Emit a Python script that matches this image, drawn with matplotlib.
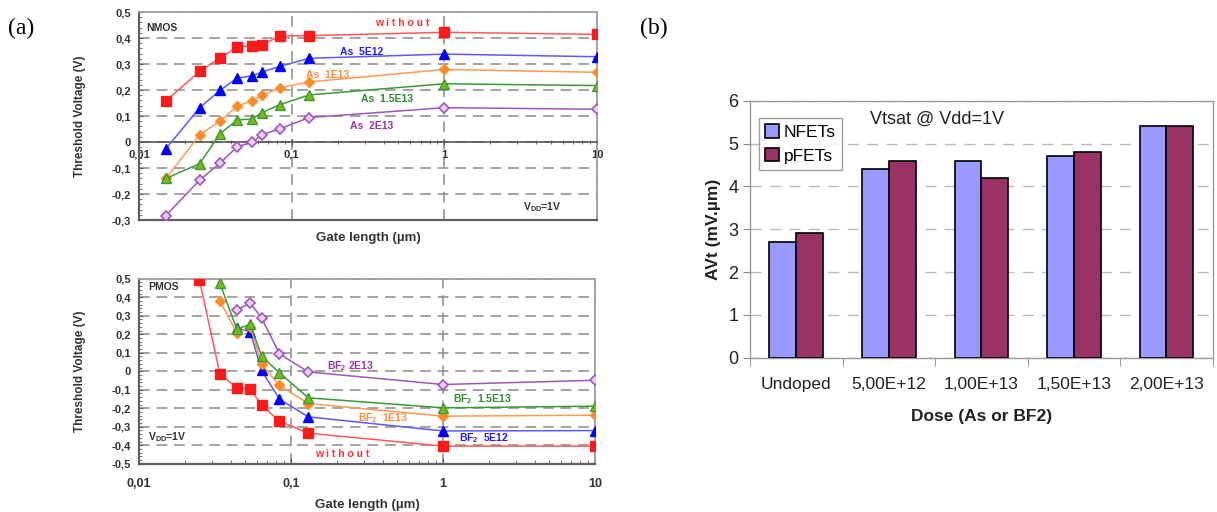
import matplotlib
matplotlib.use('Agg')
import matplotlib.pyplot as plt
import numpy as np
from matplotlib.ticker import FixedLocator, FuncFormatter, MultipleLocator, NullFormatter

plt.rcParams['font.family'] = ['Liberation Sans', 'DejaVu Sans']

# ---------------- data ----------------
gate_nmos = [0.015, 0.025, 0.034, 0.044, 0.055, 0.064, 0.084, 0.13, 1, 10]
n_without = [0.158, 0.272, 0.324, 0.365, 0.371, 0.374, 0.408, 0.409, 0.422, 0.414]
n_as5e12 = [-0.026, 0.132, 0.199, 0.246, 0.254, 0.269, 0.291, 0.322, 0.338, 0.328]
n_as1e13 = [-0.140, 0.028, 0.081, 0.138, 0.159, 0.179, 0.209, 0.231, 0.279, 0.268]
n_as15e13 = [-0.140, -0.083, 0.032, 0.085, 0.088, 0.113, 0.144, 0.181, 0.224, 0.217]
n_as2e13 = [-0.283, -0.146, -0.081, -0.018, -0.001, 0.028, 0.051, 0.094, 0.132, 0.126]

gate_p_without = [0.025, 0.034, 0.044, 0.054, 0.064, 0.084, 0.13, 1, 10]
p_without = [0.492, -0.013, -0.090, -0.097, -0.184, -0.270, -0.335, -0.405, -0.405]
gate_p_bf = [0.034, 0.044, 0.054, 0.064, 0.084, 0.13, 1, 10]
p_bf15e13 = [0.477, 0.227, 0.254, 0.081, -0.009, -0.144, -0.198, -0.189]
p_bf1e13 = [0.382, 0.207, 0.240, 0.038, -0.077, -0.175, -0.243, -0.238]
gate_p_bf2 = [0.044, 0.054, 0.064, 0.084, 0.13, 1, 10]
p_bf5e12 = [0.234, 0.213, 0.004, -0.151, -0.247, -0.323, -0.321]
p_bf2e13 = [0.332, 0.368, 0.288, 0.094, -0.004, -0.072, -0.049]

x_ticks = [0.01, 0.1, 1, 10]
x_tick_labels = ['0,01', '0,1', '1', '10']

doses = ['Undoped', '5,00E+12', '1,00E+13', '1,50E+13', '2,00E+13']
avt_nfets = [2.7, 4.4, 4.6, 4.7, 5.4]
avt_pfets = [2.9, 4.6, 4.2, 4.8, 5.4]

# ---------------- styles ----------------
RED_L, RED_M = '#ff5a5a', '#ff1a1a'
BLUE_L, BLUE_M = '#5a5aff', '#0000ff'
ORG_L, ORG_M = '#ff9a55', '#ff8c2a'
GRN_L, GRN_M, GRN_E = '#3a9a3a', '#77bb11', '#3a9a3a'
PUR_L, PUR_M = '#a055c0', '#e8d0f0'

fig = plt.figure(figsize=(12.17, 5.12), dpi=100)

comma = FuncFormatter(lambda v, p: ('%.1f' % v).replace('.', ',') if abs(v) > 1e-9 else '0')
DASH = (0, (7, 4.5))


def style_vt_axes(ax, ymin, ymax):
    ax.set_xscale('log')
    ax.set_xlim(0.01, 10)
    ax.set_ylim(ymin, ymax)
    ax.xaxis.set_major_locator(FixedLocator(x_ticks))
    ax.xaxis.set_major_formatter(FuncFormatter(lambda v, p: x_tick_labels[x_ticks.index(v)] if v in x_ticks else ''))
    ax.xaxis.set_minor_locator(FixedLocator([m * d for d in [0.01, 0.1, 1] for m in range(2, 10)]))
    ax.xaxis.set_minor_formatter(NullFormatter())
    ax.yaxis.set_major_locator(MultipleLocator(0.1))
    ax.yaxis.set_minor_locator(MultipleLocator(0.02))
    ax.yaxis.set_major_formatter(comma)
    ax.grid(True, which='major', axis='both', color='#8a8a8a', lw=1.1, linestyle=DASH)
    ax.set_axisbelow(True)
    for s in ['top', 'right']:
        ax.spines[s].set_color('#a0a0a0')
        ax.spines[s].set_linewidth(1.3)
    ax.spines['left'].set_color('#606060')
    ax.spines['left'].set_linewidth(1.6)
    ax.tick_params(axis='y', which='major', direction='in', length=3, width=0.8, color='#606060',
                   labelsize=8, pad=6)
    ax.tick_params(axis='y', which='minor', direction='in', length=2, width=0.6, color='#606060')
    for lab in ax.get_yticklabels():
        lab.set_fontweight('bold')
        lab.set_color('#333333')
    ax.set_ylabel('Threshold Voltage (V)', fontsize=8.5, fontweight='bold', color='#333333', labelpad=18)


# ---------------- (a) top: NMOS ----------------
ax1 = fig.add_axes([139 / 1217, 1 - 220 / 512, 458 / 1217, 208 / 512])
style_vt_axes(ax1, -0.3, 0.5)
ax1.spines['bottom'].set_position(('data', 0))
ax1.spines['bottom'].set_color('#555555')
ax1.spines['bottom'].set_linewidth(1.2)
ax1.plot([0, 1], [0, 0], transform=ax1.transAxes, color='#606060', lw=1.6, clip_on=False, zorder=5)
ax1.tick_params(axis='x', which='major', direction='inout', length=5, width=0.8, color='#555555',
                labelsize=8, pad=3)
ax1.tick_params(axis='x', which='minor', direction='inout', length=3, width=0.6, color='#555555')
for lab in ax1.get_xticklabels():
    lab.set_fontweight('bold')
    lab.set_color('#333333')
ax1.set_xlabel('Gate length (µm)', fontsize=9.5, fontweight='bold', color='#333333', labelpad=0)
ax1.xaxis.label.set_va('center')
ax1.xaxis.set_label_coords(0.5, -0.085)

ax1.plot(gate_nmos, n_without, color=RED_L, lw=1.1, marker='s', ms=6.5, mfc=RED_M, mec=RED_M, zorder=6)
ax1.plot(gate_nmos, n_as5e12, color=BLUE_L, lw=1.1, marker='^', ms=6.5, mfc=BLUE_M, mec=BLUE_M, zorder=6)
ax1.plot(gate_nmos, n_as1e13, color=ORG_L, lw=1.1, marker='D', ms=5, mfc=ORG_M, mec=ORG_M, zorder=6)
ax1.plot(gate_nmos, n_as15e13, color=GRN_L, lw=1.1, marker='^', ms=6.5, mfc=GRN_M, mec=GRN_E, zorder=6)
ax1.plot(gate_nmos, n_as2e13, color=PUR_L, lw=1.1, marker='D', ms=5, mfc=PUR_M, mec=PUR_L, mew=1.2, zorder=6)

tk = dict(fontsize=7.5, fontweight='bold', ha='center', va='center')
ax1.text(0.53, 0.459, 'w i t h o u t', color='#ff3030', **tk)
ax1.text(0.288, 0.345, 'As  5E12', color='#2020ff', **tk)
ax1.text(0.173, 0.257, 'As  1E13', color='#ff8c3a', **tk)
ax1.text(0.42, 0.166, 'As  1.5E13', color='#2e8b2e', **tk)
ax1.text(0.336, 0.060, 'As  2E13', color='#9933aa', **tk)
ax1.text(0.0112, 0.44, 'NMOS', color='#333333', fontsize=7.5, fontweight='bold', ha='left', va='center')
ax1.text(4.36, -0.252, r'V$_{\mathregular{DD}}$=1V', color='#333333', fontsize=7.5, fontweight='bold',
         ha='center', va='center')

# ---------------- (a) bottom: PMOS ----------------
ax2 = fig.add_axes([139 / 1217, 1 - 463.7 / 512, 456 / 1217, 185 / 512])
style_vt_axes(ax2, -0.5, 0.5)
ax2.spines['bottom'].set_color('#606060')
ax2.spines['bottom'].set_linewidth(1.6)
ax2.tick_params(axis='x', which='major', direction='in', length=4, width=0.8, color='#555555',
                labelsize=9, pad=10)
ax2.tick_params(axis='x', which='minor', direction='in', length=3, width=0.6, color='#555555')
for lab in ax2.get_xticklabels():
    lab.set_fontweight('bold')
    lab.set_color('#333333')
ax2.set_xlabel('Gate length (µm)', fontsize=9.5, fontweight='bold', color='#333333')
ax2.xaxis.label.set_va('center')
ax2.xaxis.set_label_coords(0.5, -0.222)

ax2.plot(gate_p_without, p_without, color=RED_L, lw=1.1, marker='s', ms=6.5, mfc=RED_M, mec=RED_M, zorder=6)
ax2.plot(gate_p_bf2, p_bf5e12, color=BLUE_L, lw=1.1, marker='^', ms=6.5, mfc=BLUE_M, mec=BLUE_M, zorder=6)
ax2.plot(gate_p_bf, p_bf1e13, color=ORG_L, lw=1.1, marker='D', ms=5, mfc=ORG_M, mec=ORG_M, zorder=6)
ax2.plot(gate_p_bf, p_bf15e13, color=GRN_L, lw=1.1, marker='^', ms=6.5, mfc=GRN_M, mec=GRN_E, zorder=6)
ax2.plot(gate_p_bf2, p_bf2e13, color=PUR_L, lw=1.1, marker='D', ms=5, mfc=PUR_M, mec=PUR_L, mew=1.2, zorder=6)

ax2.text(0.247, 0.029, r'BF$_{\mathregular{2}}$ 2E13', color='#9933aa', **tk)
ax2.text(1.8, -0.153, r'BF$_{\mathregular{2}}$  1.5E13', color='#2e8b2e', **tk)
ax2.text(0.40, -0.252, r'BF$_{\mathregular{2}}$  1E13', color='#ff8c3a', **tk)
ax2.text(1.85, -0.359, r'BF$_{\mathregular{2}}$  5E12', color='#2020ff', **tk)
ax2.text(0.218, -0.445, 'w i t h o u t', color='#ff3030', **tk)
ax2.text(0.0115, 0.455, 'PMOS', color='#333333', fontsize=7.5, fontweight='bold', ha='left', va='center')
ax2.text(0.0115, -0.355, r'V$_{\mathregular{DD}}$=1V', color='#333333', fontsize=7.5, fontweight='bold',
         ha='left', va='center')

# ---------------- (b) bar chart ----------------
ax3 = fig.add_axes([750 / 1217, 1 - 357.7 / 512, 462.7 / 1217, 257 / 512])
xpos = np.arange(len(doses))
bw = 0.29
ax3.bar(xpos - bw / 2, avt_nfets, width=bw, color='#9999ff', edgecolor='black', lw=1.2, label='NFETs', zorder=3)
ax3.bar(xpos + bw / 2, avt_pfets, width=bw, color='#993366', edgecolor='black', lw=1.2, label='pFETs', zorder=3)
ax3.set_xlim(-0.5, len(doses) - 0.5)
ax3.set_ylim(0, 6)
ax3.set_xticks(xpos)
ax3.set_xticklabels(doses)
ax3.xaxis.set_minor_locator(FixedLocator(np.arange(-0.5, len(doses), 1.0)))
ax3.tick_params(axis='x', which='major', length=0, labelsize=12.5, pad=14, colors='#222222')
ax3.tick_params(axis='x', which='minor', length=6, direction='out', color='#888888')
ax3.yaxis.set_major_locator(MultipleLocator(1))
ax3.tick_params(axis='y', length=5, direction='out', labelsize=13, color='#888888', labelcolor='#222222')
ax3.grid(True, axis='y', color='#bbbbbb', lw=1.0, linestyle=(0, (8, 6)), zorder=0)
ax3.set_axisbelow(True)
for s in ax3.spines.values():
    s.set_color('#999999')
    s.set_linewidth(1.0)
ax3.set_ylabel('AVt (mV.µm)', fontsize=12.5, fontweight='bold', color='#222222', labelpad=5)
ax3.set_xlabel('Dose (As or BF2)', fontsize=12.5, fontweight='bold', color='#222222', labelpad=12)
ax3.text(1.52, 5.57, 'Vtsat @ Vdd=1V', fontsize=13, ha='center', va='center', color='#222222')
leg = ax3.legend(loc='upper left', bbox_to_anchor=(0.0, 0.965), fontsize=12.5, frameon=True, fancybox=False,
                 edgecolor='#888888', handlelength=0.8, handleheight=0.8, handletextpad=0.3,
                 borderpad=0.35, labelspacing=0.45, borderaxespad=0.5)
leg.get_frame().set_linewidth(1.0)

# panel letters
fig.text(8 / 1217, 1 - 28 / 512, '(a)', fontsize=17, family='Liberation Serif', va='center', ha='left')
fig.text(640 / 1217, 1 - 28 / 512, '(b)', fontsize=17, family='Liberation Serif', va='center', ha='left')

fig.savefig('out.png', dpi=100)
